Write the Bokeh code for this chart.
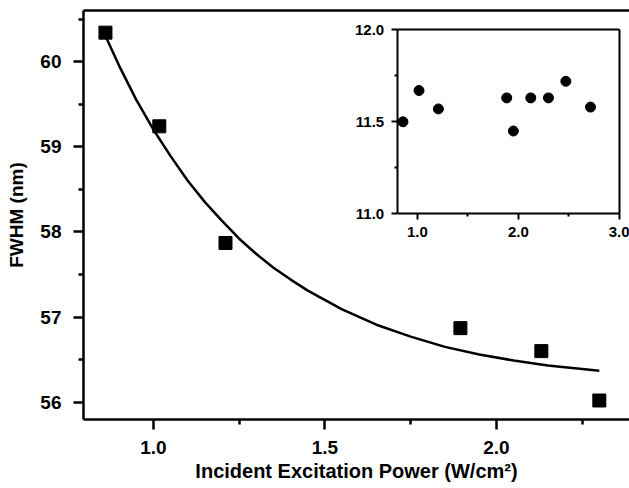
from bokeh.plotting import figure
from bokeh.models import LinearAxis, Range1d, FixedTicker, PrintfTickFormatter
from bokeh.embed import file_html
from bokeh.resources import INLINE

# Main data: FWHM vs incident excitation power
power = [0.86, 1.017, 1.21, 1.895, 2.131, 2.30]
fwhm = [60.34, 59.24, 57.87, 56.87, 56.60, 56.02]

# Fitted decay curve
fit_x = [0.86, 0.90, 0.95, 1.00, 1.05, 1.10, 1.15, 1.20, 1.25, 1.30, 1.35, 1.40, 1.45, 1.55, 1.65, 1.75, 1.85, 1.95, 2.05, 2.15, 2.25, 2.30]
fit_y = [60.30, 59.95, 59.55, 59.20, 58.89, 58.60, 58.35, 58.13, 57.92, 57.74, 57.58, 57.44, 57.31, 57.09, 56.91, 56.77, 56.65, 56.56, 56.49, 56.43, 56.39, 56.37]

# Inset data
inset_x = [0.857, 1.016, 1.208, 1.884, 1.95, 2.122, 2.297, 2.469, 2.713]
inset_y = [11.50, 11.67, 11.57, 11.63, 11.45, 11.63, 11.63, 11.72, 11.58]

main_xticks = [1.0, 1.5, 2.0]
main_xminor = [0.75, 1.25, 1.75, 2.25]
main_yticks = [56, 57, 58, 59, 60]
main_yminor = [55.5, 56.5, 57.5, 58.5, 59.5, 60.5]
inset_xticks = [1.0, 2.0, 3.0]
inset_xminor = [1.5, 2.5]
inset_yticks = [11.0, 11.5, 12.0]
inset_yminor = [11.25, 11.75]

FONT = "Liberation Sans"
LW = 2.5

p = figure(width=629, height=488, x_range=(0.796, 2.388), y_range=(55.797, 60.6),
           output_backend="svg", toolbar_location=None,
           min_border_left=83, min_border_top=10, min_border_bottom=69, min_border_right=0)
p.outline_line_color = None
p.grid.visible = False
p.background_fill_color = "white"
p.border_fill_color = "white"

def style_axis(ax, major_out, minor_out, lw, fs):
    ax.axis_line_width = lw
    ax.major_tick_line_width = lw
    ax.minor_tick_line_width = lw
    ax.major_tick_in = 0
    ax.minor_tick_in = 0
    ax.major_tick_out = major_out
    ax.minor_tick_out = minor_out
    ax.axis_line_color = "black"
    ax.major_tick_line_color = "black"
    ax.minor_tick_line_color = "black"
    ax.major_label_text_font = FONT
    ax.major_label_text_font_style = "bold"
    ax.major_label_text_font_size = fs
    ax.major_label_text_color = "black"

xa = p.xaxis[0]
xa.ticker = FixedTicker(ticks=main_xticks, minor_ticks=main_xminor)
xa.formatter = PrintfTickFormatter(format="%.1f")
style_axis(xa, 10, 5, LW, "19px")
xa.major_label_standoff = 11
xa.axis_label = "Incident Excitation Power (W/cm\u00b2)"
xa.axis_label_text_font = FONT
xa.axis_label_text_font_style = "bold"
xa.axis_label_text_font_size = "20px"
xa.axis_label_text_color = "black"
xa.axis_label_standoff = 3

ya = p.yaxis[0]
ya.ticker = FixedTicker(ticks=main_yticks, minor_ticks=main_yminor)
style_axis(ya, 10, 5, LW, "19px")
ya.major_label_standoff = 12
ya.axis_label = "FWHM (nm)"
ya.axis_label_text_font = FONT
ya.axis_label_text_font_style = "bold"
ya.axis_label_text_font_size = "19px"
ya.axis_label_text_color = "black"
ya.axis_label_standoff = 10

top = LinearAxis(ticker=FixedTicker(ticks=[]), major_label_text_font_size="0px")
top.axis_line_width = LW
top.major_tick_out = 0
top.minor_tick_out = 0
p.add_layout(top, "above")

# Main series
p.line(fit_x, fit_y, line_color="black", line_width=2.5)
p.scatter(power, fwhm, marker="square", size=13, fill_color="black", line_color="black")

# Inset positioned via extra ranges
p.extra_x_ranges = {"ix": Range1d(-2.304, 3.099)}
p.extra_y_ranges = {"iy": Range1d(9.882, 12.105)}

ILW = 2
ib = LinearAxis(x_range_name="ix", y_range_name="iy", fixed_location=11.0, bounds=(0.8, 3.0),
                ticker=FixedTicker(ticks=inset_xticks, minor_ticks=inset_xminor),
                formatter=PrintfTickFormatter(format="%.1f"))
style_axis(ib, 6, 3, ILW, "15px")
ib.major_label_standoff = 7
p.add_layout(ib, "below")

il = LinearAxis(x_range_name="ix", y_range_name="iy", fixed_location=0.8, bounds=(11.0, 12.0),
                ticker=FixedTicker(ticks=inset_yticks, minor_ticks=inset_yminor),
                formatter=PrintfTickFormatter(format="%.1f"))
style_axis(il, 6, 3, ILW, "15px")
il.major_label_standoff = 7
p.add_layout(il, "left")

it = LinearAxis(x_range_name="ix", y_range_name="iy", fixed_location=12.0, bounds=(0.8, 3.0),
                ticker=FixedTicker(ticks=[]), major_label_text_font_size="0px")
it.axis_line_width = ILW
it.major_tick_out = 0
it.minor_tick_out = 0
p.add_layout(it, "above")

ir = LinearAxis(x_range_name="ix", y_range_name="iy", fixed_location=3.0, bounds=(11.0, 12.0),
                ticker=FixedTicker(ticks=[]), major_label_text_font_size="0px")
ir.axis_line_width = ILW
ir.major_tick_out = 0
ir.minor_tick_out = 0
p.add_layout(ir, "right")

p.scatter(inset_x, inset_y, x_range_name="ix", y_range_name="iy", marker="circle", size=10,
          fill_color="black", line_color="black")

open("out.html", "w").write(file_html(p, INLINE))
